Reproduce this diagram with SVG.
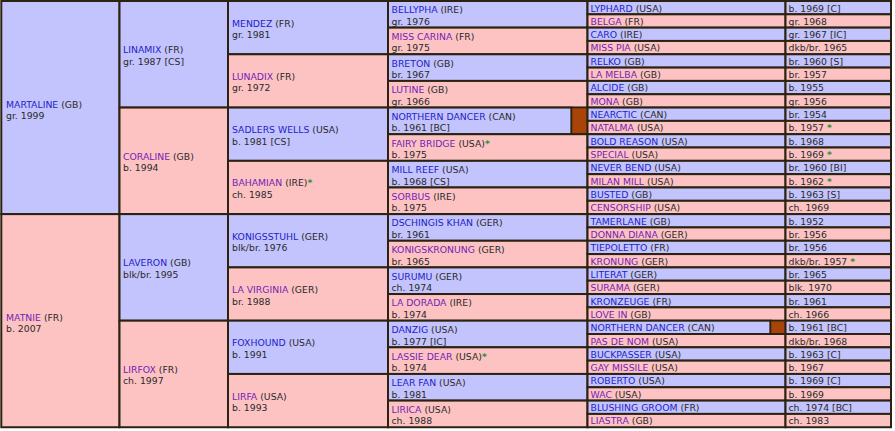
<svg xmlns="http://www.w3.org/2000/svg" width="895" height="431" viewBox="0 0 895 431">
<style>
rect{stroke:#2b2211;stroke-width:2}
.m{fill:#c3c3fd}
.f{fill:#fdc3c3}
.bx{fill:#a94409;stroke-width:1.5}
text{font-family:"DejaVu Sans",Verdana,sans-serif;font-size:9.3px;fill:#2a2a2a}
.nm{fill:#2323c8}
.nf{fill:#7424b4}
.st{fill:#2f8f2f;font-weight:bold}
</style>
<rect x="0" y="0" width="895" height="431" style="fill:#ffffff;stroke:none"/>
<g id="gen1">
<g id="n-martaline"><rect class="m" x="1.3" y="1" width="118.2" height="213.12"/><text x="6" y="107.5"><tspan class="nm">MARTALINE</tspan> (GB)</text><text x="6" y="119">gr. 1999</text></g>
<g id="n-matnie"><rect class="f" x="1.3" y="214.12" width="118.2" height="213.12"/><text x="6" y="320.7"><tspan class="nf">MATNIE</tspan> (FR)</text><text x="6" y="332.2">b. 2007</text></g>
</g>
<g id="gen2">
<g id="n-linamix"><rect class="m" x="119.5" y="1" width="108.5" height="106.56"/><text x="123" y="53.28"><tspan class="nm">LINAMIX</tspan> (FR)</text><text x="123" y="64.78">gr. 1987 [CS]</text></g>
<g id="n-coraline"><rect class="f" x="119.5" y="107.56" width="108.5" height="106.56"/><text x="123" y="159.84"><tspan class="nf">CORALINE</tspan> (GB)</text><text x="123" y="171.34">b. 1994</text></g>
<g id="n-laveron"><rect class="m" x="119.5" y="214.12" width="108.5" height="106.56"/><text x="123" y="266.4"><tspan class="nm">LAVERON</tspan> (GB)</text><text x="123" y="277.9">blk/br. 1995</text></g>
<g id="n-lirfox"><rect class="f" x="119.5" y="320.68" width="108.5" height="106.56"/><text x="123" y="372.96"><tspan class="nf">LIRFOX</tspan> (FR)</text><text x="123" y="384.46">ch. 1997</text></g>
</g>
<g id="gen3">
<g id="n-mendez"><rect class="m" x="228" y="1" width="160" height="53.28"/><text x="232" y="26.64"><tspan class="nm">MENDEZ</tspan> (FR)</text><text x="232" y="38.14">gr. 1981</text></g>
<g id="n-lunadix"><rect class="f" x="228" y="54.28" width="160" height="53.28"/><text x="232" y="79.92"><tspan class="nf">LUNADIX</tspan> (FR)</text><text x="232" y="91.42">gr. 1972</text></g>
<g id="n-sadlerswells"><rect class="m" x="228" y="107.56" width="160" height="53.28"/><text x="232" y="133.2"><tspan class="nm">SADLERS WELLS</tspan> (USA)</text><text x="232" y="144.7">b. 1981 [CS]</text></g>
<g id="n-bahamian"><rect class="f" x="228" y="160.84" width="160" height="53.28"/><text x="232" y="186.48"><tspan class="nf">BAHAMIAN</tspan> (IRE)<tspan class="st">*</tspan></text><text x="232" y="197.98">ch. 1985</text></g>
<g id="n-konigsstuhl"><rect class="m" x="228" y="214.12" width="160" height="53.28"/><text x="232" y="239.76"><tspan class="nm">KONIGSSTUHL</tspan> (GER)</text><text x="232" y="251.26">blk/br. 1976</text></g>
<g id="n-lavirginia"><rect class="f" x="228" y="267.4" width="160" height="53.28"/><text x="232" y="293.04"><tspan class="nf">LA VIRGINIA</tspan> (GER)</text><text x="232" y="304.54">br. 1988</text></g>
<g id="n-foxhound"><rect class="m" x="228" y="320.68" width="160" height="53.28"/><text x="232" y="346.32"><tspan class="nm">FOXHOUND</tspan> (USA)</text><text x="232" y="357.82">b. 1991</text></g>
<g id="n-lirfa"><rect class="f" x="228" y="373.96" width="160" height="53.28"/><text x="232" y="399.6"><tspan class="nf">LIRFA</tspan> (USA)</text><text x="232" y="411.1">b. 1993</text></g>
</g>
<g id="gen4">
<g id="n-bellypha"><rect class="m" x="388" y="1" width="199.5" height="26.64"/><text x="391.5" y="13.32"><tspan class="nm">BELLYPHA</tspan> (IRE)</text><text x="391.5" y="24.82">gr. 1976</text></g>
<g id="n-misscarina"><rect class="f" x="388" y="27.64" width="199.5" height="26.64"/><text x="391.5" y="39.96"><tspan class="nf">MISS CARINA</tspan> (FR)</text><text x="391.5" y="51.46">gr. 1975</text></g>
<g id="n-breton"><rect class="m" x="388" y="54.28" width="199.5" height="26.64"/><text x="391.5" y="66.6"><tspan class="nm">BRETON</tspan> (GB)</text><text x="391.5" y="78.1">br. 1967</text></g>
<g id="n-lutine"><rect class="f" x="388" y="80.92" width="199.5" height="26.64"/><text x="391.5" y="93.24"><tspan class="nf">LUTINE</tspan> (GB)</text><text x="391.5" y="104.74">gr. 1966</text></g>
<g id="n-northerndancer4"><rect class="m" x="388" y="107.56" width="183.5" height="26.64"/><rect class="bx" x="571.5" y="107.56" width="16" height="26.64"/><text x="391.5" y="119.88"><tspan class="nm">NORTHERN DANCER</tspan> (CAN)</text><text x="391.5" y="131.38">b. 1961 [BC]</text></g>
<g id="n-fairybridge"><rect class="f" x="388" y="134.2" width="199.5" height="26.64"/><text x="391.5" y="146.52"><tspan class="nf">FAIRY BRIDGE</tspan> (USA)<tspan class="st">*</tspan></text><text x="391.5" y="158.02">b. 1975</text></g>
<g id="n-millreef"><rect class="m" x="388" y="160.84" width="199.5" height="26.64"/><text x="391.5" y="173.16"><tspan class="nm">MILL REEF</tspan> (USA)</text><text x="391.5" y="184.66">b. 1968 [CS]</text></g>
<g id="n-sorbus"><rect class="f" x="388" y="187.48" width="199.5" height="26.64"/><text x="391.5" y="199.8"><tspan class="nf">SORBUS</tspan> (IRE)</text><text x="391.5" y="211.3">b. 1975</text></g>
<g id="n-dschingiskhan"><rect class="m" x="388" y="214.12" width="199.5" height="26.64"/><text x="391.5" y="226.44"><tspan class="nm">DSCHINGIS KHAN</tspan> (GER)</text><text x="391.5" y="237.94">br. 1961</text></g>
<g id="n-konigskronung"><rect class="f" x="388" y="240.76" width="199.5" height="26.64"/><text x="391.5" y="253.08"><tspan class="nf">KONIGSKRONUNG</tspan> (GER)</text><text x="391.5" y="264.58">br. 1965</text></g>
<g id="n-surumu"><rect class="m" x="388" y="267.4" width="199.5" height="26.64"/><text x="391.5" y="279.72"><tspan class="nm">SURUMU</tspan> (GER)</text><text x="391.5" y="291.22">ch. 1974</text></g>
<g id="n-ladorada"><rect class="f" x="388" y="294.04" width="199.5" height="26.64"/><text x="391.5" y="306.36"><tspan class="nf">LA DORADA</tspan> (IRE)</text><text x="391.5" y="317.86">b. 1974</text></g>
<g id="n-danzig"><rect class="m" x="388" y="320.68" width="199.5" height="26.64"/><text x="391.5" y="333"><tspan class="nm">DANZIG</tspan> (USA)</text><text x="391.5" y="344.5">b. 1977 [IC]</text></g>
<g id="n-lassiedear"><rect class="f" x="388" y="347.32" width="199.5" height="26.64"/><text x="391.5" y="359.64"><tspan class="nf">LASSIE DEAR</tspan> (USA)<tspan class="st">*</tspan></text><text x="391.5" y="371.14">b. 1974</text></g>
<g id="n-learfan"><rect class="m" x="388" y="373.96" width="199.5" height="26.64"/><text x="391.5" y="386.28"><tspan class="nm">LEAR FAN</tspan> (USA)</text><text x="391.5" y="397.78">b. 1981</text></g>
<g id="n-lirica"><rect class="f" x="388" y="400.6" width="199.5" height="26.64"/><text x="391.5" y="412.92"><tspan class="nf">LIRICA</tspan> (USA)</text><text x="391.5" y="424.42">ch. 1988</text></g>
</g>
<g id="gen5">
<g id="n-lyphard"><rect class="m" x="587.5" y="1" width="198" height="13.32"/><rect class="m" x="785.5" y="1" width="105.5" height="13.32"/><text x="590.5" y="11.5"><tspan class="nm">LYPHARD</tspan> (USA)</text><text x="788.5" y="11.5">b. 1969 [C]</text></g>
<g id="n-belga"><rect class="f" x="587.5" y="14.32" width="198" height="13.32"/><rect class="f" x="785.5" y="14.32" width="105.5" height="13.32"/><text x="590.5" y="24.82"><tspan class="nf">BELGA</tspan> (FR)</text><text x="788.5" y="24.82">gr. 1968</text></g>
<g id="n-caro"><rect class="m" x="587.5" y="27.64" width="198" height="13.32"/><rect class="m" x="785.5" y="27.64" width="105.5" height="13.32"/><text x="590.5" y="38.14"><tspan class="nm">CARO</tspan> (IRE)</text><text x="788.5" y="38.14">gr. 1967 [IC]</text></g>
<g id="n-misspia"><rect class="f" x="587.5" y="40.96" width="198" height="13.32"/><rect class="f" x="785.5" y="40.96" width="105.5" height="13.32"/><text x="590.5" y="51.46"><tspan class="nf">MISS PIA</tspan> (USA)</text><text x="788.5" y="51.46">dkb/br. 1965</text></g>
<g id="n-relko"><rect class="m" x="587.5" y="54.28" width="198" height="13.32"/><rect class="m" x="785.5" y="54.28" width="105.5" height="13.32"/><text x="590.5" y="64.78"><tspan class="nm">RELKO</tspan> (GB)</text><text x="788.5" y="64.78">br. 1960 [S]</text></g>
<g id="n-lamelba"><rect class="f" x="587.5" y="67.6" width="198" height="13.32"/><rect class="f" x="785.5" y="67.6" width="105.5" height="13.32"/><text x="590.5" y="78.1"><tspan class="nf">LA MELBA</tspan> (GB)</text><text x="788.5" y="78.1">br. 1957</text></g>
<g id="n-alcide"><rect class="m" x="587.5" y="80.92" width="198" height="13.32"/><rect class="m" x="785.5" y="80.92" width="105.5" height="13.32"/><text x="590.5" y="91.42"><tspan class="nm">ALCIDE</tspan> (GB)</text><text x="788.5" y="91.42">b. 1955</text></g>
<g id="n-mona"><rect class="f" x="587.5" y="94.24" width="198" height="13.32"/><rect class="f" x="785.5" y="94.24" width="105.5" height="13.32"/><text x="590.5" y="104.74"><tspan class="nf">MONA</tspan> (GB)</text><text x="788.5" y="104.74">gr. 1956</text></g>
<g id="n-nearctic"><rect class="m" x="587.5" y="107.56" width="198" height="13.32"/><rect class="m" x="785.5" y="107.56" width="105.5" height="13.32"/><text x="590.5" y="118.06"><tspan class="nm">NEARCTIC</tspan> (CAN)</text><text x="788.5" y="118.06">br. 1954</text></g>
<g id="n-natalma"><rect class="f" x="587.5" y="120.88" width="198" height="13.32"/><rect class="f" x="785.5" y="120.88" width="105.5" height="13.32"/><text x="590.5" y="131.38"><tspan class="nf">NATALMA</tspan> (USA)</text><text x="788.5" y="131.38">b. 1957 <tspan class="st">*</tspan></text></g>
<g id="n-boldreason"><rect class="m" x="587.5" y="134.2" width="198" height="13.32"/><rect class="m" x="785.5" y="134.2" width="105.5" height="13.32"/><text x="590.5" y="144.7"><tspan class="nm">BOLD REASON</tspan> (USA)</text><text x="788.5" y="144.7">b. 1968</text></g>
<g id="n-special"><rect class="f" x="587.5" y="147.52" width="198" height="13.32"/><rect class="f" x="785.5" y="147.52" width="105.5" height="13.32"/><text x="590.5" y="158.02"><tspan class="nf">SPECIAL</tspan> (USA)</text><text x="788.5" y="158.02">b. 1969 <tspan class="st">*</tspan></text></g>
<g id="n-neverbend"><rect class="m" x="587.5" y="160.84" width="198" height="13.32"/><rect class="m" x="785.5" y="160.84" width="105.5" height="13.32"/><text x="590.5" y="171.34"><tspan class="nm">NEVER BEND</tspan> (USA)</text><text x="788.5" y="171.34">br. 1960 [BI]</text></g>
<g id="n-milanmill"><rect class="f" x="587.5" y="174.16" width="198" height="13.32"/><rect class="f" x="785.5" y="174.16" width="105.5" height="13.32"/><text x="590.5" y="184.66"><tspan class="nf">MILAN MILL</tspan> (USA)</text><text x="788.5" y="184.66">b. 1962 <tspan class="st">*</tspan></text></g>
<g id="n-busted"><rect class="m" x="587.5" y="187.48" width="198" height="13.32"/><rect class="m" x="785.5" y="187.48" width="105.5" height="13.32"/><text x="590.5" y="197.98"><tspan class="nm">BUSTED</tspan> (GB)</text><text x="788.5" y="197.98">b. 1963 [S]</text></g>
<g id="n-censorship"><rect class="f" x="587.5" y="200.8" width="198" height="13.32"/><rect class="f" x="785.5" y="200.8" width="105.5" height="13.32"/><text x="590.5" y="211.3"><tspan class="nf">CENSORSHIP</tspan> (USA)</text><text x="788.5" y="211.3">ch. 1969</text></g>
<g id="n-tamerlane"><rect class="m" x="587.5" y="214.12" width="198" height="13.32"/><rect class="m" x="785.5" y="214.12" width="105.5" height="13.32"/><text x="590.5" y="224.62"><tspan class="nm">TAMERLANE</tspan> (GB)</text><text x="788.5" y="224.62">b. 1952</text></g>
<g id="n-donnadiana"><rect class="f" x="587.5" y="227.44" width="198" height="13.32"/><rect class="f" x="785.5" y="227.44" width="105.5" height="13.32"/><text x="590.5" y="237.94"><tspan class="nf">DONNA DIANA</tspan> (GER)</text><text x="788.5" y="237.94">br. 1956</text></g>
<g id="n-tiepoletto"><rect class="m" x="587.5" y="240.76" width="198" height="13.32"/><rect class="m" x="785.5" y="240.76" width="105.5" height="13.32"/><text x="590.5" y="251.26"><tspan class="nm">TIEPOLETTO</tspan> (FR)</text><text x="788.5" y="251.26">br. 1956</text></g>
<g id="n-kronung"><rect class="f" x="587.5" y="254.08" width="198" height="13.32"/><rect class="f" x="785.5" y="254.08" width="105.5" height="13.32"/><text x="590.5" y="264.58"><tspan class="nf">KRONUNG</tspan> (GER)</text><text x="788.5" y="264.58">dkb/br. 1957 <tspan class="st">*</tspan></text></g>
<g id="n-literat"><rect class="m" x="587.5" y="267.4" width="198" height="13.32"/><rect class="m" x="785.5" y="267.4" width="105.5" height="13.32"/><text x="590.5" y="277.9"><tspan class="nm">LITERAT</tspan> (GER)</text><text x="788.5" y="277.9">br. 1965</text></g>
<g id="n-surama"><rect class="f" x="587.5" y="280.72" width="198" height="13.32"/><rect class="f" x="785.5" y="280.72" width="105.5" height="13.32"/><text x="590.5" y="291.22"><tspan class="nf">SURAMA</tspan> (GER)</text><text x="788.5" y="291.22">blk. 1970</text></g>
<g id="n-kronzeuge"><rect class="m" x="587.5" y="294.04" width="198" height="13.32"/><rect class="m" x="785.5" y="294.04" width="105.5" height="13.32"/><text x="590.5" y="304.54"><tspan class="nm">KRONZEUGE</tspan> (FR)</text><text x="788.5" y="304.54">br. 1961</text></g>
<g id="n-lovein"><rect class="f" x="587.5" y="307.36" width="198" height="13.32"/><rect class="f" x="785.5" y="307.36" width="105.5" height="13.32"/><text x="590.5" y="317.86"><tspan class="nf">LOVE IN</tspan> (GB)</text><text x="788.5" y="317.86">ch. 1966</text></g>
<g id="n-northerndancer5"><rect class="m" x="587.5" y="320.68" width="183" height="13.32"/><rect class="bx" x="770.5" y="320.68" width="15" height="13.32"/><rect class="m" x="785.5" y="320.68" width="105.5" height="13.32"/><text x="590.5" y="331.18"><tspan class="nm">NORTHERN DANCER</tspan> (CAN)</text><text x="788.5" y="331.18">b. 1961 [BC]</text></g>
<g id="n-pasdenom"><rect class="f" x="587.5" y="334" width="198" height="13.32"/><rect class="f" x="785.5" y="334" width="105.5" height="13.32"/><text x="590.5" y="344.5"><tspan class="nf">PAS DE NOM</tspan> (USA)</text><text x="788.5" y="344.5">dkb/br. 1968</text></g>
<g id="n-buckpasser"><rect class="m" x="587.5" y="347.32" width="198" height="13.32"/><rect class="m" x="785.5" y="347.32" width="105.5" height="13.32"/><text x="590.5" y="357.82"><tspan class="nm">BUCKPASSER</tspan> (USA)</text><text x="788.5" y="357.82">b. 1963 [C]</text></g>
<g id="n-gaymissile"><rect class="f" x="587.5" y="360.64" width="198" height="13.32"/><rect class="f" x="785.5" y="360.64" width="105.5" height="13.32"/><text x="590.5" y="371.14"><tspan class="nf">GAY MISSILE</tspan> (USA)</text><text x="788.5" y="371.14">b. 1967</text></g>
<g id="n-roberto"><rect class="m" x="587.5" y="373.96" width="198" height="13.32"/><rect class="m" x="785.5" y="373.96" width="105.5" height="13.32"/><text x="590.5" y="384.46"><tspan class="nm">ROBERTO</tspan> (USA)</text><text x="788.5" y="384.46">b. 1969 [C]</text></g>
<g id="n-wac"><rect class="f" x="587.5" y="387.28" width="198" height="13.32"/><rect class="f" x="785.5" y="387.28" width="105.5" height="13.32"/><text x="590.5" y="397.78"><tspan class="nf">WAC</tspan> (USA)</text><text x="788.5" y="397.78">b. 1969</text></g>
<g id="n-blushinggroom"><rect class="m" x="587.5" y="400.6" width="198" height="13.32"/><rect class="m" x="785.5" y="400.6" width="105.5" height="13.32"/><text x="590.5" y="411.1"><tspan class="nm">BLUSHING GROOM</tspan> (FR)</text><text x="788.5" y="411.1">ch. 1974 [BC]</text></g>
<g id="n-liastra"><rect class="f" x="587.5" y="413.92" width="198" height="13.32"/><rect class="f" x="785.5" y="413.92" width="105.5" height="13.32"/><text x="590.5" y="424.42"><tspan class="nf">LIASTRA</tspan> (GB)</text><text x="788.5" y="424.42">ch. 1983</text></g>
</g>
<g id="connectors"></g>
</svg>
